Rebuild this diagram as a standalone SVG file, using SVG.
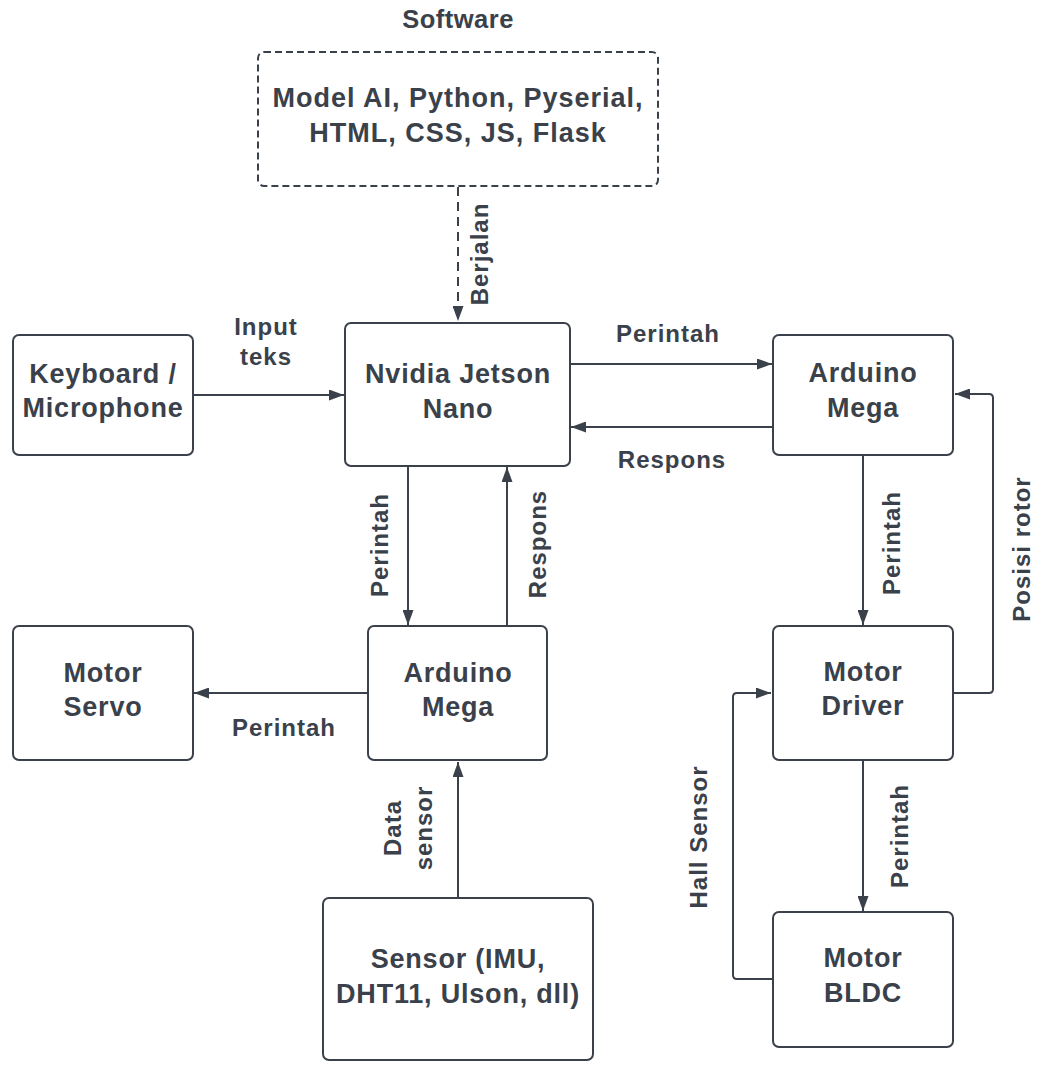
<svg xmlns="http://www.w3.org/2000/svg" width="1038" height="1067" viewBox="0 0 1038 1067">
<style>
.box{fill:#ffffff;stroke:#3a414a;stroke-width:2}
.dash{stroke-dasharray:7 4}
.t{font-family:"Liberation Sans",Arial,sans-serif;font-weight:bold;fill:#3a414a;text-anchor:middle}
.n{font-size:27px;letter-spacing:0.8px}
.l{font-size:24px;letter-spacing:1px}
.c{fill:none;stroke:#3a414a;stroke-width:2}
</style>
<defs>
<marker id="arr" viewBox="0 0 15 11" markerWidth="15" markerHeight="11" refX="15" refY="5.5" orient="auto" markerUnits="userSpaceOnUse">
<path d="M0,0 L15,5.5 L0,11 z" fill="#3a414a"/>
</marker>
</defs>
<rect width="1038" height="1067" fill="#ffffff"/>

<g id="software">
<text class="t" x="458" y="28" style="font-size:25.5px;letter-spacing:0.5px">Software</text>
<rect class="box dash" x="258" y="52" width="400" height="134" rx="6"/>
<text class="t n" x="458" y="107" style="letter-spacing:1px">Model AI, Python, Pyserial,</text>
<text class="t n" x="458" y="142" style="letter-spacing:1px">HTML, CSS, JS, Flask</text>
</g>

<g id="keyboard">
<rect class="box" x="13" y="335" width="180" height="120" rx="6"/>
<text class="t n" x="103" y="383">Keyboard /</text>
<text class="t n" x="103" y="417">Microphone</text>
</g>

<g id="jetson">
<rect class="box" x="345" y="323" width="225" height="143" rx="6"/>
<text class="t n" x="458" y="383">Nvidia Jetson</text>
<text class="t n" x="458" y="418">Nano</text>
</g>

<g id="arduino-top">
<rect class="box" x="773" y="335" width="180" height="120" rx="6"/>
<text class="t n" x="863" y="382">Arduino</text>
<text class="t n" x="863" y="417">Mega</text>
</g>

<g id="servo">
<rect class="box" x="13" y="626" width="180" height="134" rx="6"/>
<text class="t n" x="103" y="682">Motor</text>
<text class="t n" x="103" y="716">Servo</text>
</g>

<g id="arduino-mid">
<rect class="box" x="368" y="626" width="179" height="134" rx="6"/>
<text class="t n" x="458" y="682">Arduino</text>
<text class="t n" x="458" y="716">Mega</text>
</g>

<g id="sensor">
<rect class="box" x="323" y="898" width="270" height="162" rx="6"/>
<text class="t n" x="458" y="968">Sensor (IMU,</text>
<text class="t n" x="458" y="1003">DHT11, Ulson, dll)</text>
</g>

<g id="driver">
<rect class="box" x="773" y="626" width="180" height="134" rx="6"/>
<text class="t n" x="863" y="681">Motor</text>
<text class="t n" x="863" y="715">Driver</text>
</g>

<g id="bldc">
<rect class="box" x="773" y="912" width="180" height="135" rx="6"/>
<text class="t n" x="863" y="967">Motor</text>
<text class="t n" x="863" y="1002">BLDC</text>
</g>

<g id="connectors">
<path class="c" d="M458,187 V321" style="stroke-dasharray:9 6" marker-end="url(#arr)"/>
<path class="c" d="M193,395 H344" marker-end="url(#arr)"/>
<path class="c" d="M570,364 H772" marker-end="url(#arr)"/>
<path class="c" d="M773,427 H571" marker-end="url(#arr)"/>
<path class="c" d="M408,466 V625" marker-end="url(#arr)"/>
<path class="c" d="M507,626 V467" marker-end="url(#arr)"/>
<path class="c" d="M368,693 H194" marker-end="url(#arr)"/>
<path class="c" d="M458,898 V762" marker-end="url(#arr)"/>
<path class="c" d="M863,455 V625" marker-end="url(#arr)"/>
<path class="c" d="M863,760 V911" marker-end="url(#arr)"/>
<path class="c" d="M953,693 H989 Q993,693 993,689 V398 Q993,394 989,394 H955" marker-end="url(#arr)"/>
<path class="c" d="M773,979 H737 Q733,979 733,975 V697 Q733,693 737,693 H771" marker-end="url(#arr)"/>
</g>

<g id="labels">
<text class="t l" transform="translate(488,254) rotate(-90)">Berjalan</text>
<text class="t l" x="266" y="335">Input</text>
<text class="t l" x="266" y="365">teks</text>
<text class="t l" x="668" y="342">Perintah</text>
<text class="t l" x="672" y="468">Respons</text>
<text class="t l" transform="translate(388,545) rotate(-90)">Perintah</text>
<text class="t l" transform="translate(546,544) rotate(-90)">Respons</text>
<text class="t l" x="284" y="736">Perintah</text>
<text class="t l" transform="translate(401,828) rotate(-90)">Data</text>
<text class="t l" transform="translate(432,828) rotate(-90)">sensor</text>
<text class="t l" transform="translate(900,543) rotate(-90)">Perintah</text>
<text class="t l" transform="translate(1030,549) rotate(-90)">Posisi rotor</text>
<text class="t l" transform="translate(908,836) rotate(-90)">Perintah</text>
<text class="t l" transform="translate(707,837) rotate(-90)">Hall Sensor</text>
</g>
</svg>
